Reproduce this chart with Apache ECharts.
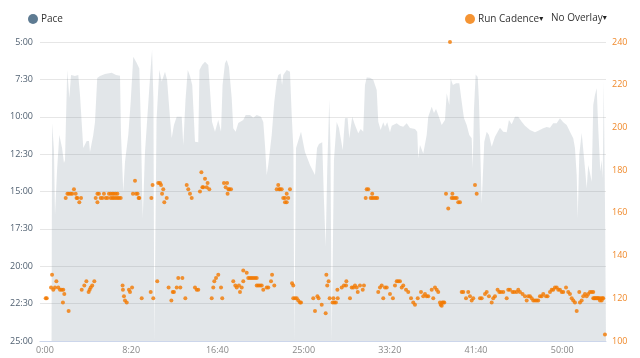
<!DOCTYPE html>
<html>
<head>
<meta charset="utf-8">
<script src="https://cdn.jsdelivr.net/npm/echarts@6/dist/echarts.min.js"></script>
<style>html,body{margin:0;padding:0;background:#fff;}#c{width:640px;height:358px;}</style>
</head>
<body>
<div id="c"></div>
<script>
// Time axis ticks (seconds) and y-axis ranges
const xTickSeconds = [0, 500, 1000, 1500, 2000, 2500, 3000];
const paceAxis = { min: 300, max: 1500, step: 150 };      // seconds per km (5:00 .. 25:00)
const cadenceAxis = { min: 100, max: 240, step: 20 };     // steps per minute

// Pace profile: elapsed seconds and pace (seconds per km)
const paceTimes = [38,41,52,58,70,83,99,110,116,129,141,151,174,193,203,222,242,255,261,280,290,303,319,348,387,412,435,441,454,464,483,497,512,532,547,555,567,580,609,621,629,634,641,647,663,677,696,708,725,735,748,764,793,802,815,828,841,854,864,870,889,896,911,928,947,957,969,986,1005,1021,1030,1044,1054,1067,1083,1092,1106,1121,1150,1164,1189,1208,1228,1253,1266,1276,1286,1295,1315,1330,1344,1353,1367,1375,1382,1402,1421,1431,1441,1446,1450,1456,1485,1508,1537,1566,1578,1589,1608,1618,1628,1637,1649,1656,1663,1669,1676,1692,1705,1727,1740,1755,1765,1782,1798,1817,1831,1846,1856,1866,1885,1904,1924,1933,1947,1962,1972,1985,2001,2011,2040,2059,2078,2098,2117,2146,2159,2165,2175,2185,2194,2214,2223,2243,2256,2268,2281,2301,2320,2330,2339,2345,2353,2366,2384,2403,2417,2430,2446,2461,2475,2481,2488,2498,2510,2517,2533,2548,2562,2575,2591,2610,2626,2639,2658,2678,2691,2707,2726,2745,2765,2784,2813,2842,2861,2871,2890,2910,2929,2948,2968,2987,3006,3026,3045,3064,3074,3084,3090,3099,3113,3122,3132,3142,3151,3161,3171,3180,3190,3200,3209,3221,3229,3235,3241,3248,3254];
const paceSecs = [1500,625,733,994,814,673,725,786,774,412,525,432,436,432,513,725,697,697,741,673,621,444,436,428,423,432,435,673,901,782,673,541,359,384,406,605,1006,741,444,332,533,1500,1500,613,412,459,419,452,605,685,633,600,600,713,533,412,436,473,613,700,702,412,392,379,392,493,621,660,613,660,473,385,372,400,525,646,660,625,613,593,593,604,593,600,621,713,834,794,673,540,459,432,426,473,432,412,419,593,733,1500,1500,725,660,741,794,834,725,709,702,934,1121,814,533,733,1500,1500,774,621,645,733,606,605,686,600,633,666,649,660,473,442,443,452,493,620,653,622,640,622,662,636,626,636,640,626,645,649,660,767,713,706,747,673,600,560,585,569,593,633,613,506,499,553,446,473,466,466,540,605,633,673,686,807,573,430,440,537,947,700,660,673,720,680,660,644,660,662,613,630,600,600,620,636,653,662,656,662,646,641,644,626,626,606,622,633,660,686,725,834,1008,753,665,673,806,887,794,826,861,553,513,486,645,820,774,847,459,934,1500];

// Run cadence samples: elapsed seconds and steps per minute
const cadenceTimes = [4,10,35,41,48,58,66,77,87,97,106,112,104,137,213,228,240,253,259,265,274,286,450,452,458,464,474,487,493,505,561,613,628,651,717,733,741,748,764,773,785,797,814,870,880,889,967,976,982,992,1005,1021,1028,1092,1104,1112,1125,1131,1141,1150,1150,1170,1179,1189,1198,1208,1218,1228,1228,1237,1247,1257,1266,1286,1295,1311,1317,1330,1433,1440,1440,1450,1460,1469,1479,1485,1556,1566,1580,1587,1605,1628,1632,1637,1645,1651,1668,1673,1678,1687,1698,1696,1721,1734,1746,1748,1769,1779,1788,1798,1808,1814,1827,1843,1850,1933,1943,1953,1962,1972,1982,2001,2018,2030,2040,2049,2059,2069,2078,2094,2107,2123,2136,2146,2162,2181,2194,2204,2214,2223,2243,2252,2262,2272,2281,2291,2295,2301,2304,2310,2316,2417,2426,2442,2455,2465,2475,2484,2523,2533,2552,2562,2575,2591,2600,2610,2625,2635,2645,2658,2678,2687,2697,2712,2722,2736,2745,2755,2770,2784,2794,2803,2813,2823,2832,2842,2852,2861,2871,2881,2890,2906,2915,2929,2939,2948,2958,2968,2977,2987,2997,3006,3022,3035,3045,3055,3064,3074,3084,3099,3103,3113,3122,3132,3142,3151,3161,3171,3180,3180,3185,3190,3195,3200,3205,3209,3214,3219,3224,3229,3233,3238,3248,2349,
  120,130,139,149,158,168,178,183,188,199,209,294,304,304,313,323,333,342,352,362,371,381,391,400,410,420,381,391,400,410,420,429,439,510,522,528,537,543,547,617,624,657,667,673,679,686,692,706,822,831,841,851,899,907,913,918,928,938,943,953,1038,1048,1056,1059,1064,1069,1079,1344,1353,1358,1363,1373,1382,1392,1392,1402,1402,1411,1421,1866,1875,1898,1860,1889,1898,1908,1918,1927,2326,2339,2363,2359,2368,2378,2388,2397,2407,2494,2504];
const cadenceValues = [120,120,125,131,124,125,128,125,124,124,124,122,118,114,124,126,128,123,124,125,126,128,126,124,121,119,118,124,123,125,120,123,120,128,125,119,123,123,125,129.5,125,129.5,120,125,124,124,120,125,128,129.5,131,125,120,128,126,125,126,123,125,128,133,132,129.5,129.5,129.5,129.5,129.5,129.5,126,126,126,126,124,125,125,128,131,126,127,126,120,120,120,119,118,118,120,114,121,120,117,113,131,126,128,120,118,120,118,118,120,124,125,126,126,128,120,125,125,126,125,123,126,124,126,123,125,126,120,125,125,122,120,126,128,128,128,125,126,124,123,120,118,117,120,123,121,122,121,121,124,120,125,124,123,118,117,116.5,118,118,118,123,123,120,123,121,119,120,120,120,122,123,121,118,120,121,124,123,123,123,120,124,124,123,123,123,124,123,122,121,119,121,121,120,119,119,119,119,121,121,122,121,121,123,124,124,125,125,124,124,123,123,125,123,122,120,119,118,114,123,118,119,121,122,121,122,123,123,123,120,120,120,120,120,120,120,120,119,120,119,120,120,103,240,
  167,169,169,169,169,171,169,167,167,165,167,167,169,165,169,167,167,169,167,167,169,169,169,169,169,169,167,167,167,167,167,167,167,169,175,169,169,167,167,167,173,174,174,173,169,171,165,167,173,171,169,167,170,179,172,172,176,172,174,171,174,172,174,169,171,171,171,171,173,171,171,171,167,167,165,165,169,167,171,171,171,169,167,167,167,167,167,167,169,162,169,167,167,167,167,165,165,173,169];

const paceData = paceTimes.map((t, i) => [t, paceSecs[i]]);
const cadenceData = cadenceTimes.map((t, i) => [t, cadenceValues[i]]);

function mmss(s) {
  const m = Math.floor(s / 60), r = Math.round(s % 60);
  return m + ':' + (r < 10 ? '0' : '') + r;
}

const FONT = 'Open Sans';
const chart = echarts.init(document.getElementById('c'), null, { renderer: 'canvas' });
chart.setOption({
  animation: false,
  textStyle: { fontFamily: FONT },
  grid: { left: 40, right: 34, top: 42, bottom: 17, containLabel: false },
  legend: [
    { data: ['Pace'], left: 28, top: 14, padding: 0, icon: 'circle', itemWidth: 10, itemHeight: 10, itemGap: 4,
      textStyle: { fontFamily: FONT, fontSize: 10, color: '#333', padding: [0, 0, 0, -2] }, selectedMode: false },
    { data: ['Run Cadence'], left: 465, top: 14, padding: 0, icon: 'circle', itemWidth: 10, itemHeight: 10,
      formatter: n => n + '{a|\u25BE}',
      textStyle: { fontFamily: FONT, fontSize: 10, color: '#333', padding: [0, 0, 0, -2],
        rich: { a: { fontSize: 8, color: '#222', fontFamily: 'DejaVu Sans' } } }, selectedMode: false }
  ],
  graphic: [
    { type: 'text', left: 551, top: 13, style: { text: 'No Overlay{a|\u25BE}', font: '10px "Open Sans"', fill: '#333',
      rich: { a: { fontSize: 8, fill: '#222', fontFamily: 'DejaVu Sans' } } } }
  ],
  xAxis: {
    type: 'value', min: -29, max: 3254,
    axisLine: { show: true, lineStyle: { color: '#ccd6eb' } },
    axisTick: { show: false },
    splitLine: { show: false },
    axisLabel: { customValues: xTickSeconds, formatter: v => mmss(v), fontSize: 9, color: '#888', margin: 5, fontFamily: FONT }
  },
  yAxis: [
    {
      type: 'value', inverse: true, min: paceAxis.min, max: paceAxis.max, interval: paceAxis.step,
      axisLine: { show: false }, axisTick: { show: false },
      splitLine: { lineStyle: { color: '#e6e6e6' } },
      axisLabel: { formatter: v => mmss(v), fontSize: 9, color: '#4f5f70', margin: 7, fontFamily: FONT }
    },
    {
      type: 'value', min: cadenceAxis.min, max: cadenceAxis.max, interval: cadenceAxis.step,
      axisLine: { show: false }, axisTick: { show: false }, splitLine: { show: false },
      axisLabel: { fontSize: 9, color: '#f08a2c', margin: 6, fontFamily: FONT }
    }
  ],
  series: [
    {
      name: 'Pace', type: 'line', yAxisIndex: 0, data: paceData,
      showSymbol: false, symbol: 'none',
      itemStyle: { color: '#5e7b92' },
      lineStyle: { width: 0, color: 'rgba(0,0,0,0)' },
      areaStyle: { origin: 'end', color: 'rgba(118,136,152,0.3)' },
      z: 2
    },
    {
      name: 'Run Cadence', type: 'scatter', yAxisIndex: 1, data: cadenceData,
      symbol: 'circle', symbolSize: 4,
      itemStyle: { color: '#f27900' },
      z: 3
    }
  ]
});
</script>
</body>
</html>
